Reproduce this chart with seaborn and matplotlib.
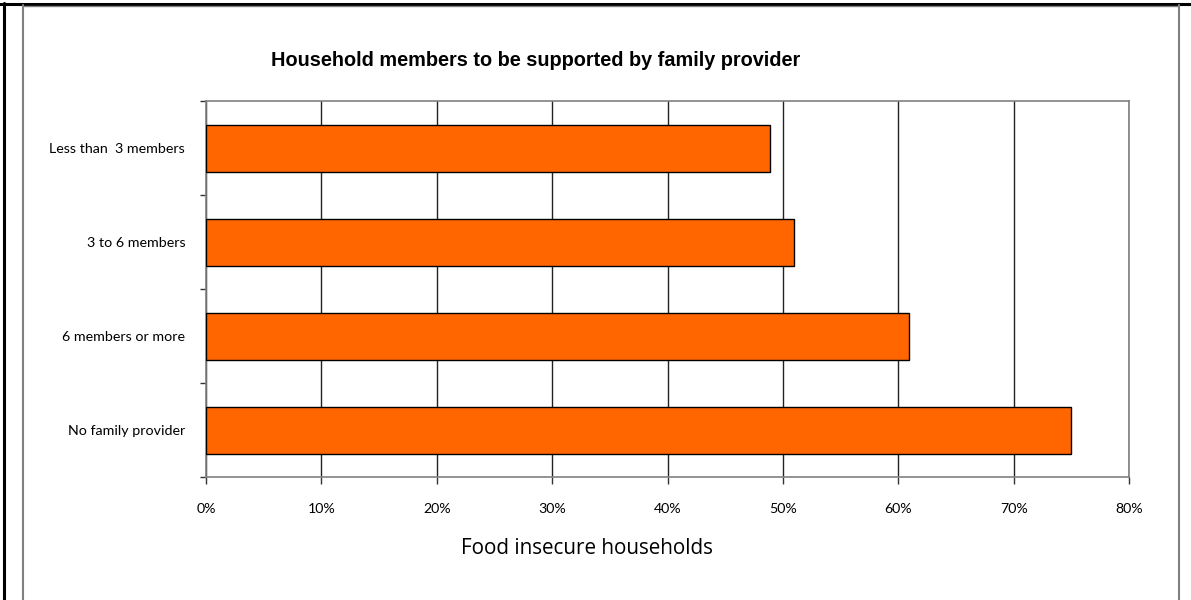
import matplotlib
matplotlib.use("Agg")
import matplotlib.pyplot as plt
import seaborn as sns
import pandas as pd
from matplotlib.lines import Line2D
from matplotlib.ticker import FixedLocator, PercentFormatter

categories = ["Less than  3 members", "3 to 6 members", "6 members or more", "No family provider"]
values = [48.9, 51.0, 60.9, 75.0]
xticks = [0, 10, 20, 30, 40, 50, 60, 70, 80]

title = "Household members to be supported by family provider"
xlabel = "Food insecure households"

sns.set_theme(style="white")
plt.rcParams['font.family'] = ['Lato', 'DejaVu Sans']

df = pd.DataFrame({"category": categories, "value": values})

fig = plt.figure(figsize=(11.91, 6.0), dpi=100)
ax = fig.add_axes([206/1191, 1 - 477/600, (1129 - 206)/1191, (477 - 101)/600])

sns.barplot(data=df, x="value", y="category", orient="h", color="#FF6600",
            saturation=1, edgecolor="black", linewidth=1.0, width=0.5, ax=ax, zorder=3)

ax.set_xlim(0, 80)
ax.set_ylim(3.5, -0.5)
ax.set_xticks(xticks)
ax.xaxis.set_major_formatter(PercentFormatter(decimals=0))
ax.grid(axis="x", color="#222222", linewidth=1.0, zorder=0)
ax.set_axisbelow(True)
ax.grid(axis="y", visible=False)

for s in ax.spines.values():
    s.set_color("#808080")
    s.set_linewidth(1.2)
    s.set_visible(True)

ax.tick_params(axis="x", which="major", direction="out", length=5, width=1, color="#333333",
               pad=14, labelsize=10.2, labelcolor="black", bottom=True)
ax.tick_params(axis="y", which="major", length=0, pad=15, labelsize=10.3, labelcolor="black")
ax.yaxis.set_minor_locator(FixedLocator([-0.5, 0.5, 1.5, 2.5, 3.5]))
ax.tick_params(axis="y", which="minor", direction="out", length=4, width=1, color="#333333", left=True)

ax.set_ylabel("")
ax.set_xlabel(xlabel, fontsize=14.9, family=['Open Sans', 'DejaVu Sans'], color="black")
ax.xaxis.set_label_coords((587 - 206) / (1129 - 206), -(549 - 477) / (477 - 101))
ax.xaxis.label.set_verticalalignment("center")

fig.text(536 / 1191, 1 - 61 / 600, title, ha="center", va="center", fontsize=14.3,
         fontweight="bold", family=['Liberation Sans', 'DejaVu Sans'], color="black")

# outer frame lines
fig.add_artist(Line2D([0, 1], [1 - 3.5/600, 1 - 3.5/600], color="black", linewidth=2.2))
fig.add_artist(Line2D([4/1191, 4/1191], [0, 1 - 3/600], color="black", linewidth=2.2))
fig.add_artist(Line2D([22.5/1191, 22.5/1191], [0, 1 - 5/600], color="#808080", linewidth=1.5))
fig.add_artist(Line2D([1178.5/1191, 1178.5/1191], [0, 1 - 5/600], color="#808080", linewidth=1.5))
fig.add_artist(Line2D([22.5/1191, 1178.5/1191], [1 - 5.5/600, 1 - 5.5/600], color="#808080", linewidth=1.0))

fig.savefig("out.png", dpi=100)
